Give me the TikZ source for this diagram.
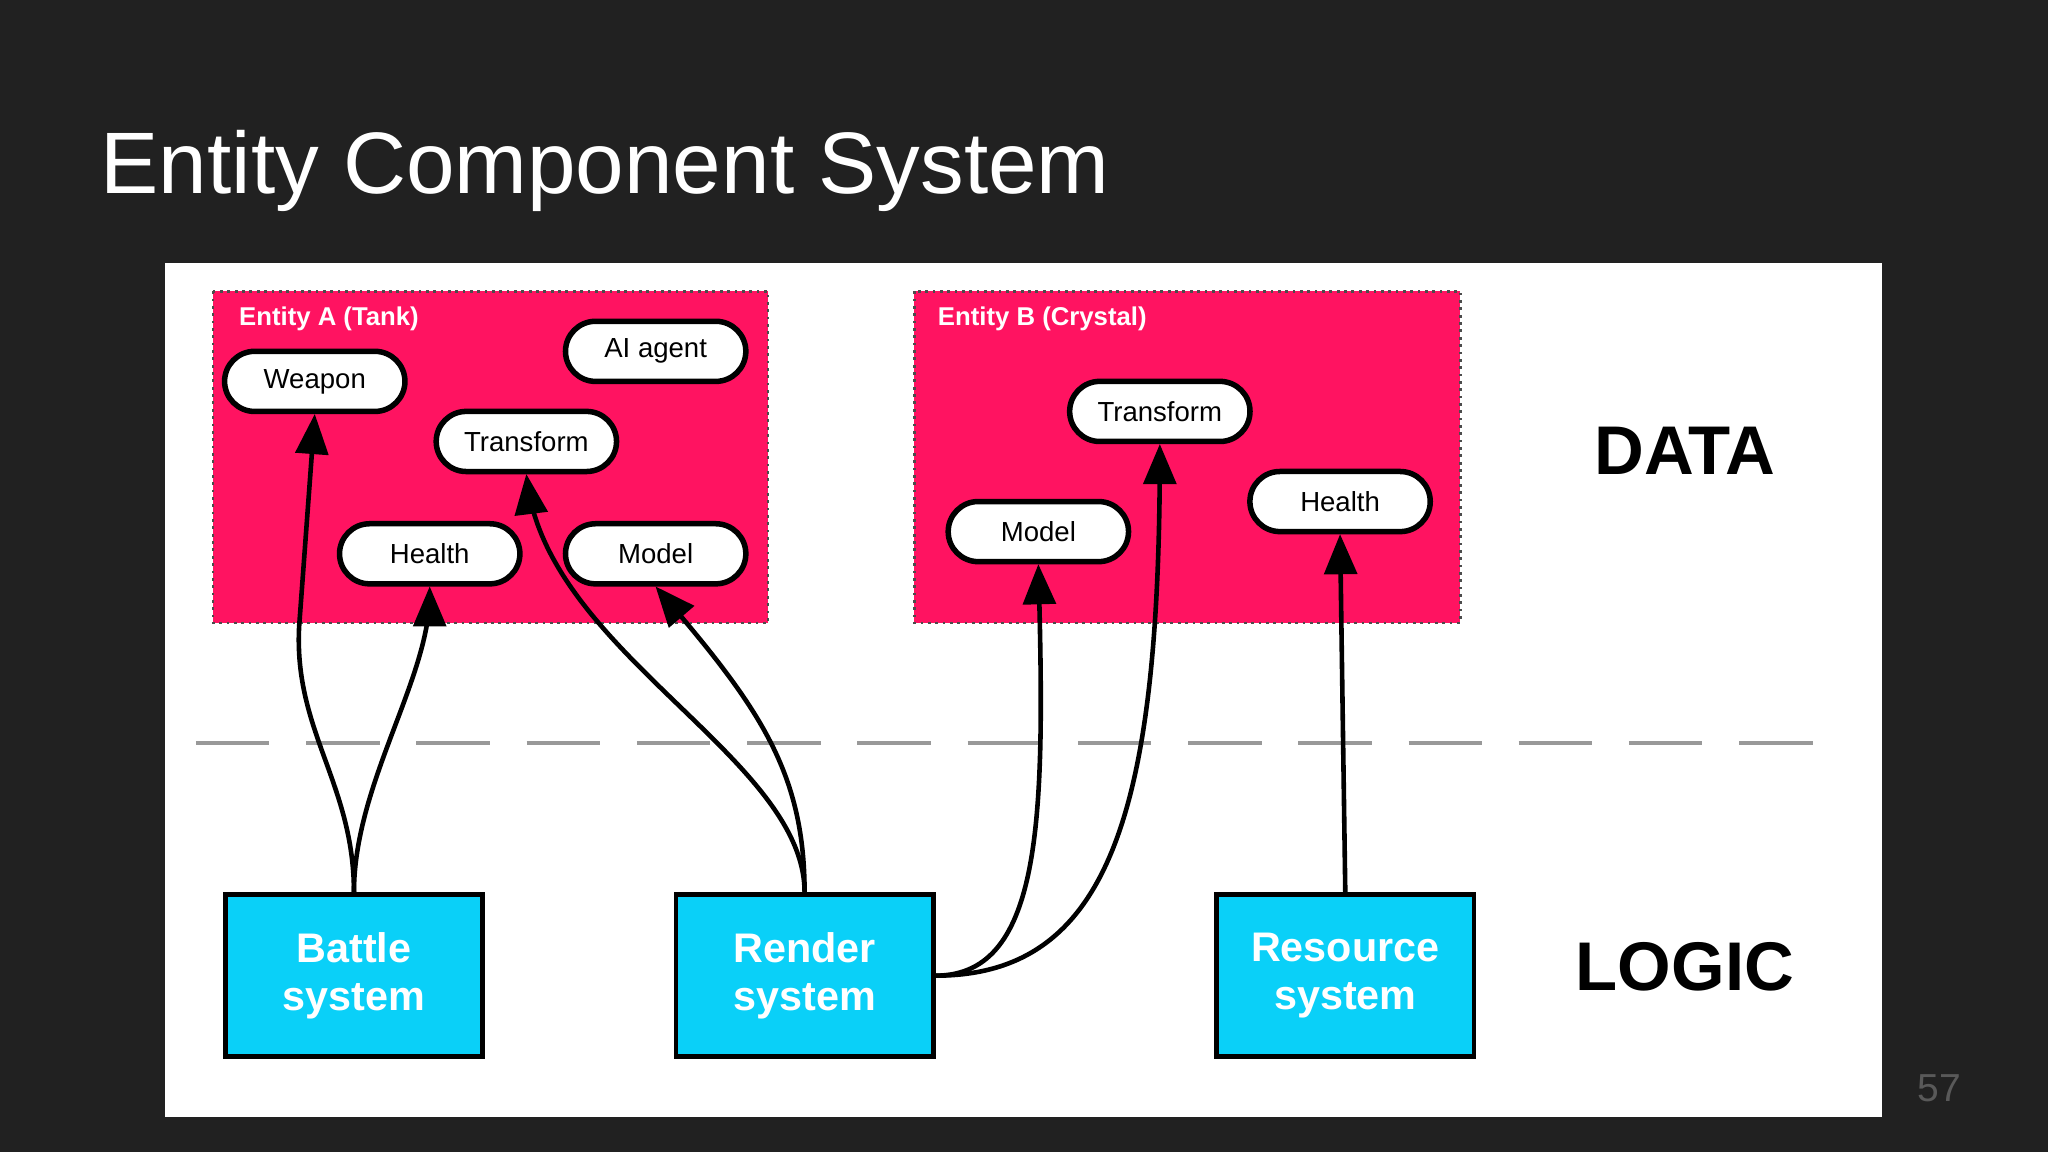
\documentclass[tikz,border=0pt]{standalone}
\usepackage{fontspec}
\setmainfont{Liberation Sans}
\usetikzlibrary{shapes,arrows}
\definecolor{slidebg}{HTML}{212121}
\definecolor{entred}{HTML}{FF1361}
\definecolor{syscyan}{HTML}{0AD0F8}
\begin{document}
\begin{tikzpicture}[x=0.01cm, y=-0.01cm, thick, >=triangle 45,
  comp/.style={rounded rectangle, draw=black, fill=white, line width=1.2pt,
    minimum width=1.38cm, minimum height=0.46cm, inner sep=0pt,
    font=\fontsize{6pt}{7pt}\selectfont},
  sys/.style={rectangle, draw=black, fill=syscyan, line width=1pt,
    minimum width=1.97cm, minimum height=1.24cm, align=center, text=white,
    font=\fontsize{9pt}{10.5pt}\selectfont\bfseries},
  entity/.style={draw=black!70, densely dotted, fill=entred, line width=0.6pt},
  link/.style={->, line width=1pt}]

% fondo y panel
\fill[slidebg] (0,0) rectangle (1568,882);
\useasboundingbox (0,0) rectangle (1568,882);
\fill[white] (126,201) rectangle (1441,855);
\node[anchor=west, text=white, font=\fontsize{19pt}{22pt}\selectfont] (title) at (64,131) {Entity Component System};
\node[text=black!65, font=\fontsize{8.5pt}{10pt}\selectfont] (page) at (1485,833) {57};

% entidades
\draw[entity] (163,223) rectangle (588,477);
\draw[entity] (700,223) rectangle (1118,477);
\node[anchor=west, text=white, font=\fontsize{5.6pt}{7pt}\selectfont\bfseries] (ea) at (170,244) {Entity A (Tank)};
\node[anchor=west, text=white, font=\fontsize{5.6pt}{7pt}\selectfont\bfseries] (eb) at (705,244) {Entity B (Crystal)};

\node[comp] (weaponA) at (241,292) {Weapon};
\node[comp] (aiA) at (502,269) {AI agent};
\node[comp] (transA) at (403,338) {Transform};
\node[comp] (healthA) at (329,424) {Health};
\node[comp] (modelA) at (502,424) {Model};
\node[comp] (transB) at (888,315) {Transform};
\node[comp] (modelB) at (795,407) {Model};
\node[comp] (healthB) at (1026,384) {Health};

% separador
\draw[gray!80, dashed, dash pattern=on 16pt off 8pt, line width=0.8pt] (150,569) -- (1395,569);

\node[font=\fontsize{15pt}{18pt}\selectfont\bfseries] (data) at (1290,345) {DATA};
\node[font=\fontsize{15pt}{18pt}\selectfont\bfseries] (logic) at (1290,740) {LOGIC};

% sistemas
\node[sys] (battle) at (271,747) {Battle\\system};
\node[sys] (render) at (616,747) {Render\\system};
\node[sys] (resource) at (1030,747) {Resource\\system};

% conexiones
\draw[link] (battle.north) .. controls (271,600) and (225,560) .. (229,480) -- (weaponA.south);
\draw[link] (battle.north) .. controls (271,600) and (329,520) .. (healthA.south);
\draw[link] (render.north) .. controls (616,580) and (420,500) .. (transA.south);
\draw[link] (render.north) .. controls (616,590) and (580,540) .. (modelA.south);
\draw[link] (render.east) .. controls (800,747) and (800,620) .. (modelB.south);
\draw[link] (render.east) .. controls (850,747) and (888,620) .. (transB.south);
\draw[link] (resource.north) -- (healthB.south);
\end{tikzpicture}
\end{document}
